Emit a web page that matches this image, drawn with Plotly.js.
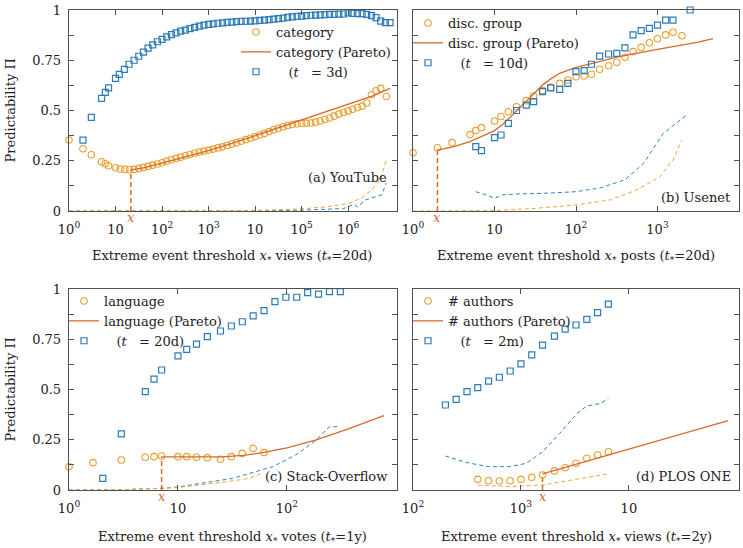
<!DOCTYPE html>
<html>
<head>
<meta charset="utf-8">
<script src="https://cdn.plot.ly/plotly-3.0.1.min.js"></script>
<style>
  body { margin: 0; background: #fff; }
  #plot { width: 743px; height: 548px; }
</style>
</head>
<body>
<div id="plot"></div>
<script>
// values; x positions kept as log10 exponents
// (a) YouTube
var aCircLog = [0,0.3,0.48,0.7,0.78,0.85,1.0,1.1,1.2,1.3,1.4,1.5,1.6,1.7,1.8,1.9,2.0,2.1,2.2,2.3,2.4,2.5,2.6,2.7,2.8,2.9,3.0,3.1,3.2,3.3,3.4,3.5,3.6,3.7,3.8,3.9,4.0,4.1,4.2,4.3,4.4,4.5,4.6,4.7,4.8,4.9,5.0,5.1,5.2,5.3,5.4,5.5,5.6,5.7,5.8,5.9,6.0,6.1,6.2,6.3,6.4,6.5,6.6,6.7,6.82];
var aCircVal = [0.353,0.31,0.28,0.245,0.235,0.225,0.215,0.209,0.207,0.205,0.207,0.212,0.217,0.222,0.228,0.234,0.240,0.248,0.255,0.262,0.268,0.275,0.281,0.287,0.293,0.298,0.303,0.308,0.314,0.319,0.326,0.333,0.340,0.347,0.355,0.362,0.370,0.378,0.386,0.395,0.404,0.412,0.419,0.425,0.430,0.434,0.436,0.437,0.438,0.442,0.448,0.455,0.463,0.472,0.482,0.490,0.498,0.506,0.515,0.522,0.537,0.578,0.598,0.61,0.57];
var aSqLog = [0.3,0.48,0.7,0.78,0.85,1.0,1.08,1.19,1.29,1.4,1.5,1.6,1.7,1.8,1.9,2.0,2.1,2.2,2.3,2.4,2.5,2.6,2.7,2.8,2.9,3.0,3.1,3.2,3.3,3.4,3.5,3.6,3.7,3.8,3.9,4.0,4.1,4.2,4.3,4.4,4.5,4.6,4.7,4.8,4.9,5.0,5.1,5.2,5.3,5.4,5.5,5.6,5.7,5.8,5.9,6.0,6.1,6.2,6.3,6.4,6.5,6.6,6.7,6.8,6.9];
var aSqVal = [0.353,0.466,0.56,0.59,0.613,0.66,0.68,0.705,0.73,0.75,0.77,0.79,0.81,0.826,0.842,0.854,0.866,0.877,0.886,0.895,0.90,0.907,0.914,0.92,0.925,0.928,0.931,0.934,0.936,0.938,0.94,0.942,0.943,0.944,0.945,0.946,0.948,0.95,0.952,0.955,0.957,0.96,0.963,0.966,0.968,0.97,0.972,0.974,0.975,0.976,0.977,0.978,0.978,0.979,0.98,0.986,0.983,0.982,0.982,0.978,0.972,0.962,0.945,0.937,0.937];
var aParLog = [1.33,1.6,2.0,2.5,3.0,3.5,4.0,4.5,5.0,5.5,6.0,6.5,6.9];
var aParVal = [0.205,0.215,0.238,0.268,0.30,0.336,0.375,0.415,0.455,0.493,0.53,0.57,0.61];
var aDashOLog = [0,1,2,3,4,4.5,5,5.5,6,6.3,6.5,6.7,6.82];
var aDashOVal = [0,0,0,0.001,0.003,0.006,0.011,0.02,0.037,0.065,0.105,0.155,0.26];
var aDashBLog = [0,1,2,3,4,5,5.5,5.9,6.04,6.12,6.2,6.37,6.58,6.72,6.82];
var aDashBVal = [0,0,0,0,0.001,0.004,0.008,0.012,0.025,0.035,0.02,0.055,0.07,0.08,0.14];
var aThr = [1.33], aThrVal = [0.205];

// (b) Usenet
var bCircLog = [0,0.3,0.48,0.7,0.77,0.84,1.0,1.08,1.17,1.27,1.39,1.48,1.59,1.69,1.8,1.9,2.0,2.1,2.19,2.29,2.4,2.5,2.6,2.7,2.8,2.9,3.0,3.1,3.19,3.3];
var bCircVal = [0.29,0.315,0.34,0.38,0.40,0.415,0.448,0.47,0.494,0.519,0.549,0.572,0.60,0.615,0.635,0.652,0.668,0.672,0.68,0.705,0.723,0.74,0.765,0.793,0.814,0.837,0.857,0.876,0.889,0.872];
var bSqLog = [0.77,0.84,1.0,1.08,1.17,1.27,1.39,1.48,1.59,1.69,1.8,1.9,2.0,2.1,2.19,2.29,2.4,2.5,2.6,2.7,2.8,2.9,3.0,3.1,3.19,3.4];
var bSqVal = [0.32,0.30,0.365,0.378,0.436,0.50,0.527,0.544,0.594,0.613,0.605,0.635,0.693,0.698,0.73,0.771,0.781,0.784,0.812,0.876,0.897,0.909,0.925,0.95,0.95,1.0];
var bParLog = [0.3,0.5,0.7,0.9,1.0,1.1,1.2,1.3,1.4,1.5,1.6,1.7,1.8,1.9,2.0,2.2,2.5,3.0,3.5,3.68];
var bParVal = [0.303,0.32,0.345,0.38,0.40,0.43,0.47,0.51,0.555,0.595,0.63,0.66,0.685,0.70,0.715,0.735,0.765,0.804,0.84,0.857];
var bDashBLog = [0.77,0.9,1.0,1.1,1.3,1.6,2.0,2.3,2.6,2.83,3.07,3.36];
var bDashBVal = [0.096,0.08,0.063,0.08,0.085,0.088,0.096,0.115,0.155,0.237,0.386,0.478];
var bDashOLog = [0,1,1.5,2.0,2.42,2.74,3.03,3.19,3.3];
var bDashOVal = [0,0.002,0.013,0.03,0.055,0.104,0.17,0.254,0.353];
var bThr = [0.3], bThrVal = [0.303];

// (c) Stack-Overflow
var cCircLog = [0,0.22,0.48,0.7,0.78,0.85,1.0,1.08,1.17,1.27,1.39,1.49,1.59,1.69,1.79];
var cCircVal = [0.116,0.136,0.149,0.163,0.166,0.169,0.166,0.166,0.163,0.161,0.153,0.166,0.182,0.207,0.186];
var cSqLog = [0.31,0.48,0.7,0.78,0.85,1.0,1.08,1.17,1.27,1.39,1.49,1.59,1.69,1.79,1.89,1.99,2.09,2.19,2.29,2.39,2.49];
var cSqVal = [0.058,0.279,0.489,0.552,0.597,0.667,0.70,0.726,0.763,0.791,0.816,0.837,0.866,0.892,0.937,0.959,0.959,0.982,0.975,0.987,0.987];
var cParLog = [0.85,1.0,1.2,1.4,1.6,1.79,2.0,2.27,2.57,2.89];
var cParVal = [0.165,0.165,0.164,0.165,0.172,0.187,0.21,0.249,0.305,0.37];
var cDashBLog = [0,0.5,0.85,1.0,1.5,1.66,1.87,2.08,2.27,2.39,2.48];
var cDashBVal = [0,0.002,0.008,0.015,0.058,0.083,0.116,0.174,0.249,0.315,0.315];
var cDashOLog = [0,0.5,1.0,1.3,1.5,1.66,1.78];
var cDashOVal = [0,0.002,0.012,0.03,0.045,0.058,0.086];
var cThr = [0.85], cThrVal = [0.165];

// (d) PLOS ONE
var dCircLog = [2.6,2.7,2.8,2.9,3.0,3.1,3.2,3.31,3.41,3.51,3.61,3.71,3.81];
var dCircVal = [0.053,0.046,0.045,0.046,0.053,0.063,0.075,0.095,0.111,0.133,0.158,0.174,0.19];
var dSqLog = [2.3,2.4,2.5,2.6,2.7,2.8,2.9,3.0,3.1,3.2,3.31,3.41,3.51,3.61,3.71,3.81];
var dSqVal = [0.423,0.451,0.489,0.509,0.542,0.561,0.592,0.627,0.672,0.721,0.766,0.80,0.821,0.849,0.882,0.925];
var dParLog = [3.2,3.6,4.0,4.5,4.92];
var dParVal = [0.08,0.142,0.203,0.28,0.345];
var dDashBLog = [2.3,2.5,2.7,2.9,3.05,3.2,3.36,3.52,3.61,3.74,3.81];
var dDashBVal = [0.169,0.136,0.116,0.116,0.133,0.19,0.282,0.381,0.418,0.431,0.456];
var dDashOLog = [2.6,2.9,3.2,3.45,3.81];
var dDashOVal = [0.025,0.017,0.025,0.046,0.08];
var dThr = [3.2], dThrVal = [0.075];

var FONT = "DejaVu Serif";
var ORANGE = "#e8a030", BLUE = "#2c7bb6", PARETO = "#d8692c", DASHO = "#eba93c", DASHB = "#3284bd";

function pw(arr) { return arr.map(function (v) { return Math.pow(10, v); }); }

var data = [];
function panel(n, lg, circLog, circVal, sqLog, sqVal, parLog, parVal, dbLog, dbVal, doLog, doVal, thr, thrVal, catName, tName) {
  var xa = n === 1 ? "x" : "x" + n, ya = n === 1 ? "y" : "y" + n;
  data.push({x: pw(dbLog), y: dbVal, xaxis: xa, yaxis: ya, mode: "lines", showlegend: false,
    line: {color: DASHB, width: 1, dash: "4px,3px"}});
  data.push({x: pw(doLog), y: doVal, xaxis: xa, yaxis: ya, mode: "lines", showlegend: false,
    line: {color: DASHO, width: 1, dash: "4px,3px"}});
  data.push({x: pw([thr[0], thr[0]]), y: [0, thrVal[0]], xaxis: xa, yaxis: ya, mode: "lines", showlegend: false,
    line: {color: PARETO, width: 1.5, dash: "5px,3px"}});
  data.push({x: pw(circLog), y: circVal, xaxis: xa, yaxis: ya, mode: "markers", name: catName, legend: lg,
    cliponaxis: false, marker: {symbol: "circle-open", size: 6.5, color: ORANGE, line: {width: 1.1}}});
  data.push({x: pw(parLog), y: parVal, xaxis: xa, yaxis: ya, mode: "lines", name: catName + " (Pareto)", legend: lg,
    line: {color: PARETO, width: 1.3}});
  data.push({x: pw(sqLog), y: sqVal, xaxis: xa, yaxis: ya, mode: "markers", name: tName, legend: lg,
    cliponaxis: false, marker: {symbol: "square-open", size: 6, color: BLUE, line: {width: 1.2}}});
}

panel(1, "legend", aCircLog, aCircVal, aSqLog, aSqVal, aParLog, aParVal, aDashBLog, aDashBVal, aDashOLog, aDashOVal, aThr, aThrVal,
  "category", "\u00a0\u00a0\u00a0(<i>t</i>\u00a0\u00a0 = 3d)");
panel(2, "legend2", bCircLog, bCircVal, bSqLog, bSqVal, bParLog, bParVal, bDashBLog, bDashBVal, bDashOLog, bDashOVal, bThr, bThrVal,
  "disc. group", "\u00a0\u00a0\u00a0(<i>t</i>\u00a0\u00a0 = 10d)");
panel(3, "legend3", cCircLog, cCircVal, cSqLog, cSqVal, cParLog, cParVal, cDashBLog, cDashBVal, cDashOLog, cDashOVal, cThr, cThrVal,
  "language", "\u00a0\u00a0\u00a0(<i>t</i>\u00a0\u00a0 = 20d)");
panel(4, "legend4", dCircLog, dCircVal, dSqLog, dSqVal, dParLog, dParVal, dDashBLog, dDashBVal, dDashOLog, dDashOVal, dThr, dThrVal,
  "# authors", "\u00a0\u00a0\u00a0(<i>t</i>\u00a0\u00a0 = 2m)");

var W = 743, H = 548;
function px(v) { return v / W; }
function py(v) { return 1 - v / H; }

var axCommon = {
  showline: true, mirror: "ticks", linecolor: "#505050", linewidth: 1.3,
  ticks: "inside", ticklen: 5, tickwidth: 1, tickcolor: "#505050",
  showgrid: false, zeroline: false,
  tickfont: {family: FONT, size: 13, color: "#222"}
};
function xax(dom, range, tv, tt, anchor) {
  return Object.assign({type: "log", domain: dom, range: range, tickvals: tv, ticktext: tt, anchor: anchor,
    ticklabelstandoff: 6}, axCommon);
}
var yTicks = [0, 0.125, 0.25, 0.375, 0.5, 0.625, 0.75, 0.875, 1];
var yText = ["0", "", "0.25", "", "0.5", "", "0.75", "", "1"];
function yax(dom, anchor, labels) {
  return Object.assign({domain: dom, range: [0, 1], tickvals: yTicks, ticktext: yText, anchor: anchor,
    showticklabels: labels, ticklabelstandoff: 4}, axCommon);
}

var domL = [px(69), px(397)], domR = [px(413), px(739)];
var domT = [py(211), py(10)], domB = [py(490), py(289)];

function leg(x, y) {
  return {x: x, y: y, xanchor: "left", yanchor: "top", bgcolor: "rgba(0,0,0,0)",
    font: {family: FONT, size: 13, color: "#222"}, tracegroupgap: 0, itemwidth: 30};
}

function note(text, x, y, xanchor, extra) {
  return Object.assign({text: text, x: x, y: y, xref: "paper", yref: "paper", xanchor: xanchor, yanchor: "middle",
    showarrow: false, font: {family: FONT, size: 13, color: "#222"}}, extra || {});
}
function xmark(xr, thr, y) {
  return {text: "<i>x</i>", x: thr, y: py(y), xref: xr, yref: "paper", xanchor: "center", yanchor: "middle",
    showarrow: false, font: {family: FONT, size: 13, color: PARETO}};
}

var layout = {
  width: W, height: H,
  margin: {l: 0, r: 0, t: 0, b: 0},
  paper_bgcolor: "#fff", plot_bgcolor: "#fff",
  font: {family: FONT, size: 13, color: "#222"},
  xaxis: xax(domL, [0, 7.05], [1, 10, 1e2, 1e3, 1e4, 1e5, 1e6],
    ["10<sup>0</sup>", "10", "10<sup>2</sup>", "10<sup>3</sup>", "10", "10<sup>5</sup>", "10<sup>6</sup>"], "y"),
  yaxis: yax(domT, "x", true),
  xaxis2: xax(domR, [0, 4], [1, 10, 1e2, 1e3], ["10<sup>0</sup>", "10", "10<sup>2</sup>", "10<sup>3</sup>"], "y2"),
  yaxis2: yax(domT, "x2", false),
  xaxis3: xax(domL, [0, 3.01], [1, 10, 1e2], ["10<sup>0</sup>", "10", "10<sup>2</sup>"], "y3"),
  yaxis3: yax(domB, "x3", true),
  xaxis4: xax(domR, [2, 5.02], [1e2, 1e3, 1e4], ["10<sup>2</sup>", "10<sup>3</sup>", "10"], "y4"),
  yaxis4: yax(domB, "x4", false),
  legend: leg(px(236), py(17)),
  legend2: leg(px(408), py(8)),
  legend3: leg(px(64), py(286)),
  legend4: leg(px(408), py(286)),
  annotations: [
    note("Extreme event threshold <i>x</i><sub>*</sub> views (<i>t</i><sub>*</sub>=20d)", px(232), py(256), "center"),
    note("Extreme event threshold <i>x</i><sub>*</sub> posts (<i>t</i><sub>*</sub>=20d)", px(576), py(256), "center"),
    note("Extreme event threshold <i>x</i><sub>*</sub> votes (<i>t</i><sub>*</sub>=1y)", px(232), py(537), "center"),
    note("Extreme event threshold <i>x</i><sub>*</sub> views (<i>t</i><sub>*</sub>=2y)", px(576), py(537), "center"),
    note("Predictability \u03a0", px(10), py(110.5), "center", {textangle: -90}),
    note("Predictability \u03a0", px(10), py(389.5), "center", {textangle: -90}),
    note("(a) YouTube", px(389), py(177), "right"),
    note("(b) Usenet", px(733), py(197), "right"),
    note("(c) Stack-Overflow", px(389), py(476), "right"),
    note("(d) PLOS ONE", px(733), py(476), "right"),
    xmark("x", aThr[0], 217),
    xmark("x2", bThr[0], 217),
    xmark("x3", cThr[0], 496),
    xmark("x4", dThr[0], 496)
  ]
};

Plotly.newPlot("plot", data, layout, {displayModeBar: false, staticPlot: true});
</script>
</body>
</html>
